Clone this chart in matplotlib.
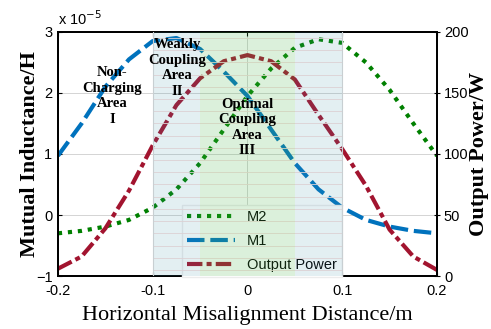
import numpy as np
import matplotlib
matplotlib.use('Agg')
import matplotlib.pyplot as plt

# horizontal misalignment (m)
x = [-0.2, -0.175, -0.15, -0.125, -0.1, -0.075, -0.05, -0.025, 0.0,
     0.025, 0.05, 0.075, 0.1, 0.125, 0.15, 0.175, 0.2]
# mutual inductance in units of 1e-5 H
m1 = [0.97, 1.5, 2.1, 2.55, 2.85, 2.9, 2.72, 2.35, 1.95,
      1.4, 0.85, 0.42, 0.12, -0.08, -0.19, -0.26, -0.3]
m2 = [-0.3, -0.26, -0.19, -0.08, 0.12, 0.42, 0.85, 1.4, 1.95,
      2.4, 2.74, 2.88, 2.82, 2.5, 2.05, 1.5, 0.97]
# output power (W)
power = [6, 16, 39, 70, 107, 140, 162, 176, 181,
         176, 161, 132, 104, 74, 38, 16, 5]

xticks = [-0.2, -0.1, 0, 0.1, 0.2]
xtick_labels = ['-0.2', '-0.1', '0', '0.1', '0.2']
yticks_left = [-1, 0, 1, 2, 3]
yticks_right = [0, 50, 100, 150, 200]

serif = ['Liberation Serif', 'DejaVu Serif']
sans = ['Liberation Sans', 'DejaVu Sans']

fig = plt.figure(figsize=(4.91, 3.29), dpi=100)
ax = fig.add_axes([0.118, 0.161, 0.772, 0.742])
ax2 = ax.twinx()

l2, = ax.plot(x, m2, color='#008000', lw=3, linestyle=(0, (1.0, 1.4)),
              dash_capstyle='butt', label='M2')
l1, = ax.plot(x, m1, color='#0072BD', lw=3, linestyle=(0, (4.2, 1.4)), label='M1')
lp, = ax2.plot(x, power, color='#A2142F', lw=3, linestyle=(0, (3.7, 1.0, 1.2, 1.0)),
               label='Output Power', zorder=2)

ax.set_xlim(-0.2, 0.2)
ax.set_ylim(-1, 3)
ax2.set_ylim(0, 200)
ax.set_xticks(xticks)
ax.set_xticklabels(xtick_labels)
ax.set_yticks(yticks_left)
ax2.set_yticks(yticks_right)

ax.grid(True, color='#d4d4d4', lw=0.7)
ax.set_axisbelow(True)

# faint stripes and shaded regions drawn over the curves
for yy in np.arange(5, 200, 10):
    ax2.plot([-0.1, 0.1], [yy, yy], color='#f6dcdc', lw=0.6, zorder=2.8)
ax2.axvspan(-0.1, -0.05, color='#3f8fa8', alpha=0.14, lw=0, zorder=3)
ax2.axvspan(0.05, 0.1, color='#3f8fa8', alpha=0.14, lw=0, zorder=3)
ax2.axvspan(-0.05, 0.05, color='#4cb84c', alpha=0.2, lw=0, zorder=3)
for xv in [-0.1, 0.1]:
    ax2.axvline(xv, color='#c8cfd2', lw=0.8, zorder=3)

for a in (ax, ax2):
    for s in a.spines.values():
        s.set_linewidth(1.3)
ax.tick_params(axis='both', direction='in', length=3, labelsize=10.5, top=True, pad=4)
ax.tick_params(axis='x', pad=6)
ax2.tick_params(axis='y', direction='inout', length=4, labelsize=10.5, pad=3)
for lab in ax.get_xticklabels() + ax.get_yticklabels() + ax2.get_yticklabels():
    lab.set_family(sans)

ax.text(0.0, 1.015, 'x 10$^{-5}$', transform=ax.transAxes, fontsize=10.5,
        family=sans, ha='left', va='bottom')

ax.set_xlabel('Horizontal Misalignment Distance/m', family=serif, fontsize=16)
ax.set_ylabel('Mutual Inductance/H', family=serif, fontsize=16, fontweight='bold')
ax2.set_ylabel('Output Power/W', family=serif, fontsize=16, fontweight='bold')
ax.xaxis.set_label_coords(0.5, -0.123)
ax.yaxis.set_label_coords(-0.047, 0.5)
ax2.yaxis.set_label_coords(1.084, 0.5)

area_kw = dict(family=serif, fontsize=10.5, fontweight='bold', ha='center',
               va='top', linespacing=1.25, zorder=4)
ax2.text(-0.143, 172, 'Non-\nCharging\nArea\nI', **area_kw)
ax2.text(-0.074, 195, 'Weakly\nCoupling\nArea\nII', **area_kw)
ax2.text(0.0, 146, 'Optimal\nCoupling\nArea\nIII', **area_kw)

leg = ax2.legend([l2, l1, lp], ['M2', 'M1', 'Output Power'],
                 loc='lower left', bbox_to_anchor=(0.327, -0.005), borderaxespad=0,
                 prop={'family': sans, 'size': 10.5}, handlelength=3.3,
                 fancybox=False, framealpha=1, edgecolor='#ececec',
                 labelspacing=0.7, borderpad=0.35)
leg.set_zorder(2.5)

fig.savefig('out.png', dpi=100)
